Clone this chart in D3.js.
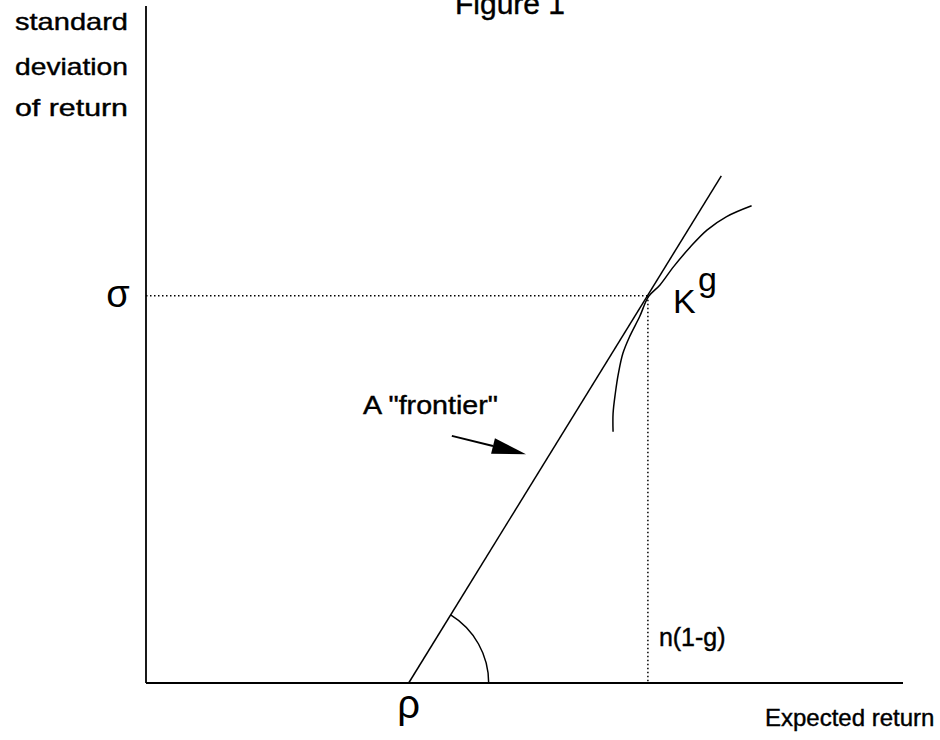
<!DOCTYPE html>
<html>
<head>
<meta charset="utf-8">
<script src="https://cdn.jsdelivr.net/npm/d3@7"></script>
<style>
    body { margin: 0; background: #fff; }
    svg text { font-family: "Liberation Sans", Arial, sans-serif; fill: #000; }
</style>
</head>
<body>
<div class="chart"></div>
<script>
// axes domains (expected return, standard deviation) - diagram units
const xDomain = [0, 100];
const yDomain = [0, 100];

// key points
const rho = 34.7;        // where the frontier meets the return axis
const sigma = 57.2;      // sigma at the tangency point K^g
const nPoint = 66.3;     // n(1-g), expected return at K^g

// the straight "frontier" line
const frontierX = [34.7, 76.0];
const frontierY = [0, 74.9];

// the curved frontier through K^g
const curveX = [61.7, 61.7, 62.0, 62.4, 63.0, 63.9, 65.2, 66.4, 67.9, 69.7, 71.9, 74.1, 76.7, 80.0];
const curveY = [37.1, 39.8, 42.8, 45.7, 48.7, 51.2, 54.1, 57.1, 58.8, 61.5, 64.4, 66.9, 68.9, 70.5];

// arrow pointing at the frontier
const arrowFrom = [40.4, 36.5];
const arrowTo = [50.2, 33.8];

const yAxisLabel = ["standard", "deviation", "of return"];

const width = 940,
    height = 740;

const x = d3.scaleLinear().domain(xDomain).range([146, 903]);
const y = d3.scaleLinear().domain(yDomain).range([683, 6]);

let svg = d3.select(".chart").append("svg")
    .attr("width", width)
    .attr("height", height);

// axes - plain lines, no ticks
svg.append("line")
    .attr("x1", x(0)).attr("y1", y(0))
    .attr("x2", x(0)).attr("y2", y(100))
    .attr("stroke", "#000").attr("stroke-width", 1.8);
svg.append("line")
    .attr("x1", x(0)).attr("y1", y(0))
    .attr("x2", x(100)).attr("y2", y(0))
    .attr("stroke", "#000").attr("stroke-width", 1.8);

// dotted guides to K^g
svg.append("line")
    .attr("x1", x(0)).attr("y1", y(sigma))
    .attr("x2", x(nPoint)).attr("y2", y(sigma))
    .attr("stroke", "#000").attr("stroke-width", 1.5)
    .attr("stroke-dasharray", "1.5,2.5");
svg.append("line")
    .attr("x1", x(nPoint)).attr("y1", y(sigma))
    .attr("x2", x(nPoint)).attr("y2", y(0))
    .attr("stroke", "#000").attr("stroke-width", 1.5)
    .attr("stroke-dasharray", "1.5,2.5");

// straight frontier
svg.append("line")
    .attr("x1", x(frontierX[0])).attr("y1", y(frontierY[0]))
    .attr("x2", x(frontierX[1])).attr("y2", y(frontierY[1]))
    .attr("stroke", "#000").attr("stroke-width", 1.5);

// curve
const curveData = curveX.map((d, i) => [d, curveY[i]]);
svg.append("path")
    .datum(curveData)
    .attr("d", d3.line()
        .x(d => x(d[0]))
        .y(d => y(d[1]))
        .curve(d3.curveCatmullRom))
    .attr("fill", "none")
    .attr("stroke", "#000")
    .attr("stroke-width", 1.5);

// angle arc at rho
const ang = Math.atan2(y(frontierY[1]) - y(frontierY[0]), x(frontierX[1]) - x(frontierX[0]));
const arcPath = d3.path();
arcPath.arc(x(rho), y(0), 80, ang, 0);
svg.append("path")
    .attr("d", arcPath.toString())
    .attr("fill", "none")
    .attr("stroke", "#000")
    .attr("stroke-width", 1.5);

// arrow
const ax0 = x(arrowFrom[0]), ay0 = y(arrowFrom[1]),
    ax1 = x(arrowTo[0]), ay1 = y(arrowTo[1]);
const len = Math.hypot(ax1 - ax0, ay1 - ay0);
const ux = (ax1 - ax0) / len, uy = (ay1 - ay0) / len;
const headLen = 34, headW = 8;
const bx = ax1 - ux * headLen, by = ay1 - uy * headLen;
svg.append("line")
    .attr("x1", ax0).attr("y1", ay0)
    .attr("x2", bx).attr("y2", by)
    .attr("stroke", "#000").attr("stroke-width", 2);
svg.append("path")
    .attr("d", "M" + ax1 + "," + ay1 +
        "L" + (bx - uy * headW) + "," + (by + ux * headW) +
        "L" + (bx + uy * headW) + "," + (by - ux * headW) + "Z")
    .attr("fill", "#000");

// texts
function label(txt, px, py, size, anchor) {
    return svg.append("text")
        .attr("x", px)
        .attr("y", py)
        .attr("text-anchor", anchor || "start")
        .style("font-size", size + "px")
        .style("stroke", "#000")
        .style("stroke-width", 0.4)
        .text(txt);
}

label("Figure 1", 455, 14, 30);

yAxisLabel.forEach((t, i) => {
    label(t, 15, [30, 75, 116][i], 24)
        .attr("textLength", 113)
        .attr("lengthAdjust", "spacingAndGlyphs");
});

label("\u03C3", x(0) - 28, y(sigma) + 11, 38, "middle").style("stroke-width", 0);
label("\u03C1", x(rho), 718, 40, "middle").style("stroke-width", 0);

label("K", x(nPoint) + 25, y(sigma) + 17, 34).style("stroke-width", 0);
label("g", x(nPoint) + 50, y(sigma) - 5, 34).style("stroke-width", 0);

label("A \"frontier\"", 363, 414, 25)
    .attr("textLength", 135)
    .attr("lengthAdjust", "spacingAndGlyphs");
label("n(1-g)", x(nPoint) + 11, 646, 25);
label("Expected return", 765, 726, 24);
</script>
</body>
</html>
